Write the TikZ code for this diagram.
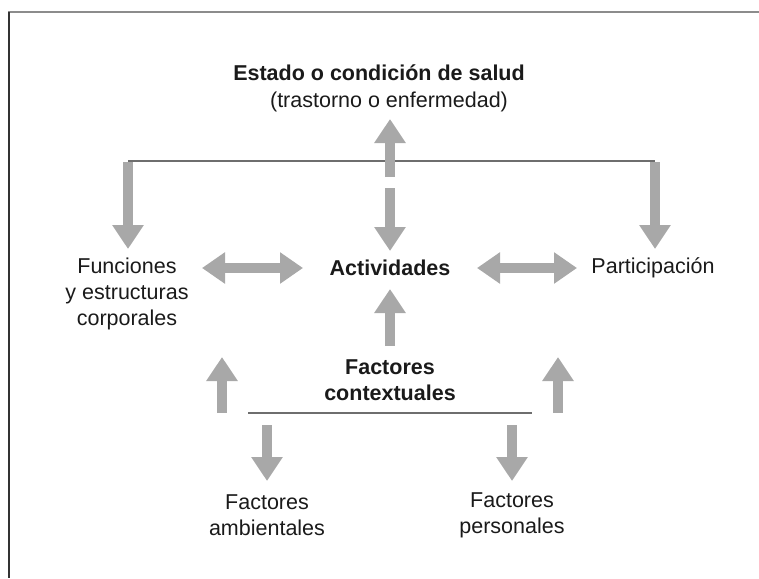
\documentclass[tikz,border=0pt]{standalone}
\usepackage{fontspec}
\setmainfont{Liberation Sans}
\usetikzlibrary{arrows.meta}
\definecolor{arrgray}{HTML}{A8A8A8}
\definecolor{linegray}{HTML}{6E6E6E}
\definecolor{txt}{HTML}{1A1A1A}
\tikzset{
  fat/.style={draw=arrgray, line width=10.5pt, line cap=butt,
    -{Triangle[width=30pt,length=24pt]}},
  fatboth/.style={draw=arrgray, line width=10.5pt, line cap=butt,
    {Triangle[width=30pt,length=23pt]}-{Triangle[width=30pt,length=23pt]}},
  bar/.style={draw=linegray, line width=2pt},
  lbl/.style={inner sep=0pt, text=txt, font=\fontsize{21.5}{26}\selectfont, align=center},
  blbl/.style={lbl, font=\fontsize{21.5}{25.5}\selectfont\bfseries}
}
\begin{document}
\begin{tikzpicture}[x=1pt,y=-1pt]
\useasboundingbox (0,0) rectangle (759,578);
% frame
\draw[draw=gray!90, line width=2pt] (8,12.5) -- (759,12.5);
\draw[draw=black!80, line width=2pt] (9,12) -- (9,578);

% named coordinates for the connector ends
\coordinate (tl) at (128,161);
\coordinate (tr) at (655,161);
\coordinate (upA) at (390,177);
\coordinate (upB) at (390,119);
\coordinate (dnA) at (390,188);
\coordinate (dnB) at (390,251);
\coordinate (tlB) at (128,249);
\coordinate (trB) at (655,249);
\coordinate (hl1) at (202,268);
\coordinate (hl2) at (303,268);
\coordinate (hr1) at (477,268);
\coordinate (hr2) at (577,268);
\coordinate (cA) at (390,346);
\coordinate (cB) at (390,289);
\coordinate (lA) at (222,413);
\coordinate (lB) at (222,357);
\coordinate (rA) at (558,413);
\coordinate (rB) at (558,357);
\coordinate (bl) at (248,413);
\coordinate (br) at (532,413);
\coordinate (aA) at (267,425);
\coordinate (aB) at (267,481);
\coordinate (pA) at (512,425);
\coordinate (pB) at (512,481);

% top bracket
\draw[bar] (tl) -- (tr);
\draw[fat] (upA) -- (upB);
\draw[fat] (dnA) -- (dnB);
\draw[fat] ([yshift=-1pt]tl) -- (tlB);
\draw[fat] ([yshift=-1pt]tr) -- (trB);
% horizontal double arrows
\draw[fatboth] (hl1) -- (hl2);
\draw[fatboth] (hr1) -- (hr2);
% contextual
\draw[fat] (cA) -- (cB);
\draw[fat] (lA) -- (lB);
\draw[fat] (rA) -- (rB);
\draw[bar] (bl) -- (br);
\draw[fat] (aA) -- (aB);
\draw[fat] (pA) -- (pB);

% texts
\node[blbl] (title) at (379,73) {Estado o condición de salud};
\node[lbl] (sub) at (389,102) {(trastorno o enfermedad)};
\node[blbl] (act) at (390,268) {Actividades};
\node[lbl] (fun) at (127,294) {Funciones\\y estructuras\\corporales};
\node[lbl] (par) at (653,268) {Participación};
\node[blbl] (ctx) at (390,380) {Factores\\contextuales};
\node[lbl] (amb) at (267,515) {Factores\\ambientales};
\node[lbl] (per) at (512,515) {Factores\\personales};
\end{tikzpicture}
\end{document}
